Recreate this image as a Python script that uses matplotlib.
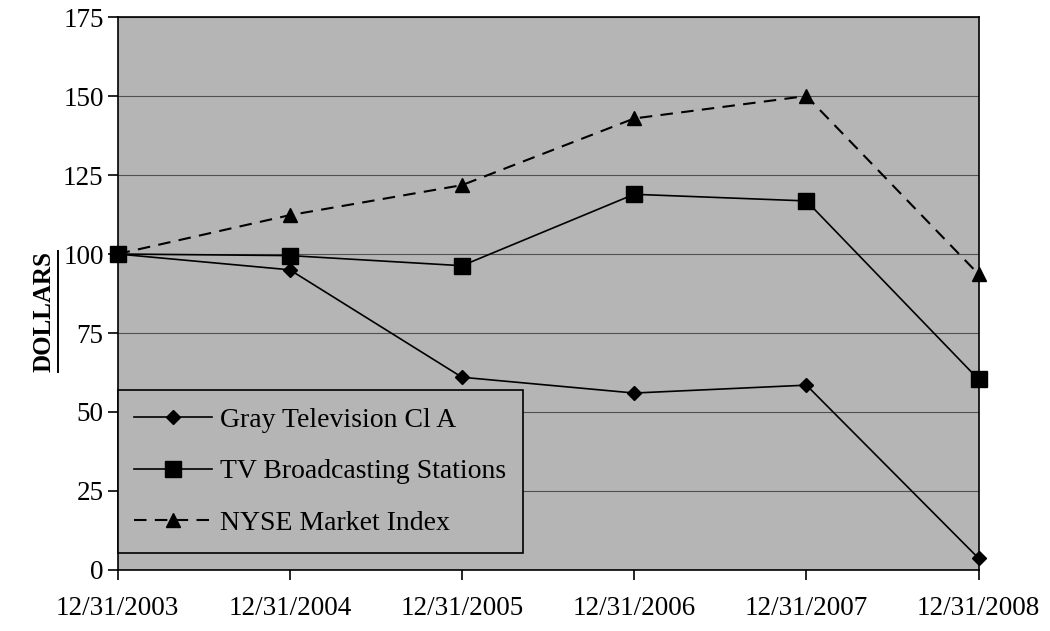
import matplotlib.pyplot as plt
from matplotlib.lines import Line2D

plt.rcParams['font.family'] = ['Liberation Serif', 'DejaVu Serif']

dates = ['12/31/2003', '12/31/2004', '12/31/2005', '12/31/2006', '12/31/2007', '12/31/2008']
gray_tv = [100, 95, 61, 56, 58.5, 3.7]
tv_stations = [100, 99.5, 96.3, 118.9, 116.8, 60.3]
nyse = [100, 112.3, 121.8, 142.9, 150, 93.6]
yticks = [0, 25, 50, 75, 100, 125, 150, 175]

fig = plt.figure(figsize=(10.5, 6.31), dpi=100)
ax = fig.add_axes([0.112, 0.0967, 0.820, 0.8763])
ax.set_facecolor('#b5b5b5')

x = range(len(dates))
ax.plot(x, gray_tv, color='black', lw=1.2, marker='D', markersize=7, label='Gray Television Cl A')
ax.plot(x, tv_stations, color='black', lw=1.2, marker='s', markersize=11, label='TV Broadcasting Stations')
ax.plot(x, nyse, color='black', lw=1.5, linestyle=(0, (6, 4)), marker='^', markersize=10,
        label='NYSE Market Index')

ax.set_xlim(0, 5)
ax.set_ylim(0, 175)
ax.set_xticks(list(x))
ax.set_xticklabels(dates)
ax.set_yticks(yticks)
ax.yaxis.grid(True, color='#505050', lw=0.8)
ax.set_axisbelow(True)
ax.tick_params(axis='both', direction='out', length=7, width=1.2, labelsize=19.5, colors='black')
ax.tick_params(axis='x', pad=12)
ax.tick_params(axis='y', pad=3)
for s in ax.spines.values():
    s.set_linewidth(1.2)

for ln in ax.lines:
    ln.set_clip_on(False)

leg = ax.legend(loc='lower left', bbox_to_anchor=(0.0, 0.031), fontsize=20, frameon=True,
                fancybox=False, edgecolor='black', facecolor='#b5b5b5', framealpha=1,
                handlelength=2.8, handletextpad=0.3, labelspacing=0.95, borderpad=0.6,
                borderaxespad=0.0)
leg.get_frame().set_linewidth(1.2)

ylab = fig.text(0.042, 0.506, 'DOLLARS', rotation=90, fontsize=18, fontweight='bold',
                ha='center', va='center')
fig.canvas.draw()
bb = ylab.get_window_extent().transformed(fig.transFigure.inverted())
fig.add_artist(Line2D([bb.x1 + 0.002, bb.x1 + 0.002], [bb.y0, bb.y1], color='black',
                      lw=1.4, transform=fig.transFigure))

fig.savefig('out.png', dpi=100)
